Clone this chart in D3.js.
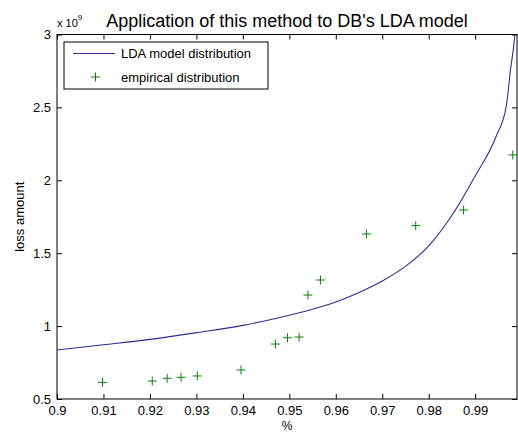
<!DOCTYPE html>
<html><head><meta charset="utf-8">
<script src="https://cdn.jsdelivr.net/npm/d3@7"></script>
<style>body{margin:0;background:#fff}svg{display:block;font-family:"Liberation Sans",Arial,sans-serif}</style>
</head><body>
<svg id="c" width="518" height="434"></svg>
<script>
const title = "Application of this method to DB's LDA model";
const xTicks = [0.9,0.91,0.92,0.93,0.94,0.95,0.96,0.97,0.98,0.99];
const yTicks = [0.5,1,1.5,2,2.5,3];
// LDA model distribution curve (loss amount in 1e9)
const curveX = [0.900,0.910,0.920,0.930,0.940,0.950,0.955,0.960,0.965,0.970,0.975,0.980,0.985,0.990,0.9945,0.9967,0.9976,0.9985,0.9990];
const curveY = [0.836,0.872,0.909,0.955,1.005,1.075,1.115,1.165,1.230,1.310,1.410,1.550,1.760,2.030,2.300,2.510,2.757,2.985,3.200];
// empirical distribution
const empX = [0.9098,0.9205,0.9237,0.9267,0.9302,0.9396,0.9470,0.9496,0.9521,0.9540,0.9567,0.9666,0.9772,0.9875,0.9981];
const empY = [0.614,0.623,0.642,0.649,0.658,0.699,0.877,0.920,0.925,1.213,1.316,1.632,1.689,1.796,2.174];

const svg = d3.select("#c");
const L=57,R=517,T=34.5,B=399;
const x = d3.scaleLinear().domain([0.9,0.999]).range([L,R]);
const y = d3.scaleLinear().domain([0.5,3]).range([B,T]);
const fs = 13, tl = 5;

svg.append("defs").append("clipPath").attr("id","clip").append("rect")
  .attr("x",L).attr("y",T).attr("width",R-L).attr("height",B-T);

// axes with inward ticks
const gB = svg.append("g").attr("transform",`translate(0,${B})`)
  .call(d3.axisBottom(x).tickValues(xTicks).tickSize(-tl).tickPadding(7).tickFormat(d=>String(+d.toFixed(2))));
const gT = svg.append("g").attr("transform",`translate(0,${T})`)
  .call(d3.axisTop(x).tickValues(xTicks).tickSize(-tl).tickFormat(""));
const gL = svg.append("g").attr("transform",`translate(${L},0)`)
  .call(d3.axisLeft(y).tickValues(yTicks).tickSize(-tl).tickPadding(6).tickFormat(d=>String(d)));
const gR = svg.append("g").attr("transform",`translate(${R},0)`)
  .call(d3.axisRight(y).tickValues(yTicks).tickSize(-tl).tickFormat(""));
[gB,gT,gL,gR].forEach(g=>{
  g.select(".domain").remove();
  g.selectAll("line").attr("stroke","#000");
  g.selectAll("text").attr("fill","#000").style("font-size",fs+"px").style("font-family",'"Liberation Sans",Arial,sans-serif');
});
gB.selectAll("text").attr("dy","0.71em");
svg.append("rect").attr("x",L).attr("y",T).attr("width",R-L).attr("height",B-T)
  .attr("fill","none").attr("stroke","#000").attr("stroke-width",1);

// curve
const line = d3.line().x(d=>x(d[0])).y(d=>y(d[1])).curve(d3.curveMonotoneX);
svg.append("path").attr("clip-path","url(#clip)")
  .datum(curveX.map((v,i)=>[v,curveY[i]]))
  .attr("d",line).attr("fill","none").attr("stroke","#2e2e96").attr("stroke-width",1.1);

// markers
const ms=4.5;
const gm = svg.append("g").attr("stroke","#0a800a").attr("stroke-width",1);
empX.forEach((v,i)=>{
  const cx=x(v), cy=y(empY[i]);
  gm.append("path").attr("d",`M${cx-ms},${cy}H${cx+ms}M${cx},${cy-ms}V${cy+ms}`);
});

// legend
const lg = svg.append("g");
lg.append("rect").attr("x",64).attr("y",42).attr("width",204).attr("height",47)
  .attr("fill","#fff").attr("stroke","#000");
lg.append("line").attr("x1",73).attr("x2",115).attr("y1",53.5).attr("y2",53.5)
  .attr("stroke","#2e2e96").attr("stroke-width",1.1);
lg.append("path").attr("d",`M${95.5-ms},77H${95.5+ms}M95.5,${77-ms}V${77+ms}`).attr("stroke","#0a800a");
lg.append("text").attr("x",121).attr("y",58).text("LDA model distribution").style("font-size",fs+"px");
lg.append("text").attr("x",121).attr("y",81.5).text("empirical distribution").style("font-size",fs+"px");

// title and labels
svg.append("text").attr("x",(L+R)/2).attr("y",27).attr("text-anchor","middle").style("font-size","18px").text(title);
svg.append("text").attr("x",(L+R)/2).attr("y",430).attr("text-anchor","middle").style("font-size","12px").text("%");
svg.append("text").attr("transform",`translate(24,${(T+B)/2}) rotate(-90)`).attr("text-anchor","middle").style("font-size",fs+"px").text("loss amount");
const ex = svg.append("text").attr("x",57).attr("y",27).style("font-size","11px");
ex.append("tspan").text("x 10");
ex.append("tspan").attr("dy",-7).style("font-size","8px").text("9");
</script>
</body></html>
